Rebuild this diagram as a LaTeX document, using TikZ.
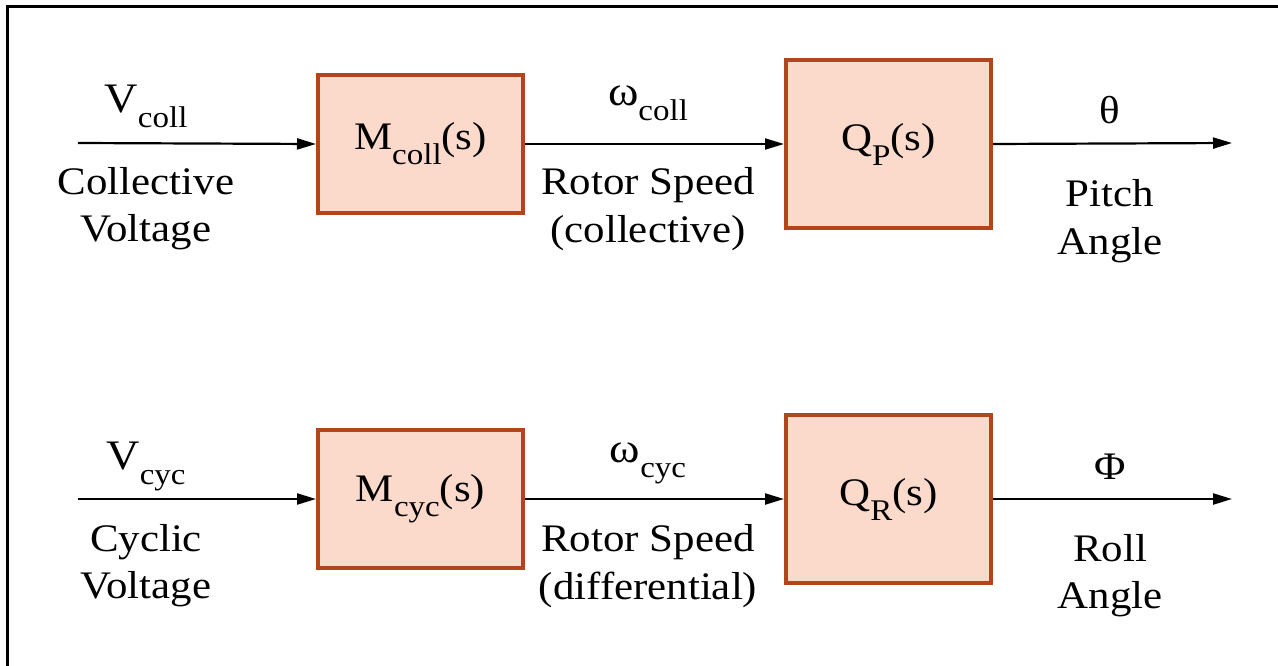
\documentclass[tikz,border=0pt]{standalone}
\usepackage{fontspec}
\setmainfont{Liberation Serif}[FakeStretch=1.1]
\usetikzlibrary{arrows.meta}
\definecolor{blockedge}{HTML}{B2451C}
\definecolor{blockfill}{HTML}{FBD9CB}
% lowered, smaller subscript text
\newcommand{\lsub}[1]{\raisebox{-15pt}{\fontsize{30}{30}\selectfont #1}}
\begin{document}
\begin{tikzpicture}[x=1pt,y=-1pt,
  blockbox/.style={draw=blockedge, fill=blockfill, line width=4pt,
    minimum width=205pt, inner sep=0pt, font=\fontsize{39}{47}\selectfont},
  caption/.style={anchor=base, inner sep=0pt, font=\fontsize{39}{47}\selectfont},
  signame/.style={anchor=base, inner sep=0pt, font=\fontsize{42}{47}\selectfont},
  flow/.style={line width=2.2pt, -{Triangle[length=19pt,width=11pt]}},
  frameline/.style={line width=3pt}]
\useasboundingbox (0,0) rectangle (1278,666);

% frame edges
\coordinate (fb) at (7,666);
\coordinate (fc) at (7,7);
\coordinate (fr) at (1278,7);
\draw[frameline] (fb) -- (fc) -- (fr);

% collective channel
\node[blockbox, minimum height=138pt] (mcoll) at (420.5,144) {M\lsub{coll}(s)};
\node[blockbox, minimum height=168pt] (qp) at (888.5,144) {Q\lsub{P}(s)};
\coordinate (vin1) at (78,143);
\coordinate (out1) at (1232,143);
\draw[flow] (vin1) -- (mcoll.west);
\draw[flow] (mcoll.east) -- (qp.west);
\draw[flow] (qp.east) -- (out1);

\node[signame] (vcoll) at (146,113) {V\lsub{coll}};
\node[caption] (vcolla) at (146,194) {Collective};
\node[caption] (vcollb) at (146,241) {Voltage};
\node[signame] (wcoll) at (648,106) {ω\lsub{coll}};
\node[caption] (wcolla) at (648,194) {Rotor Speed};
\node[caption] (wcollb) at (648,242) {(collective)};
\node[caption] (theta) at (1110,124) {θ};
\node[caption] (thetaa) at (1110,207) {Pitch};
\node[caption] (thetab) at (1110,254) {Angle};

% cyclic channel
\node[blockbox, minimum height=138pt] (mcyc) at (420.5,499) {M\lsub{cyc}(s)};
\node[blockbox, minimum height=168pt] (qr) at (888.5,499) {Q\lsub{R}(s)};
\coordinate (vin2) at (78,499);
\coordinate (out2) at (1232,499);
\draw[flow] (vin2) -- (mcyc.west);
\draw[flow] (mcyc.east) -- (qr.west);
\draw[flow] (qr.east) -- (out2);

\node[signame] (vcyc) at (146,469) {V\lsub{cyc}};
\node[caption] (vcyca) at (146,551) {Cyclic};
\node[caption] (vcycb) at (146,598) {Voltage};
\node[signame] (wcyc) at (648,462) {ω\lsub{cyc}};
\node[caption] (wcyca) at (648,551) {Rotor Speed};
\node[caption] (wcycb) at (648,599) {(differential)};
\node[caption] (phi) at (1110,479) {Φ};
\node[caption] (phia) at (1110,561) {Roll};
\node[caption] (phib) at (1110,608) {Angle};
\end{tikzpicture}
\end{document}
